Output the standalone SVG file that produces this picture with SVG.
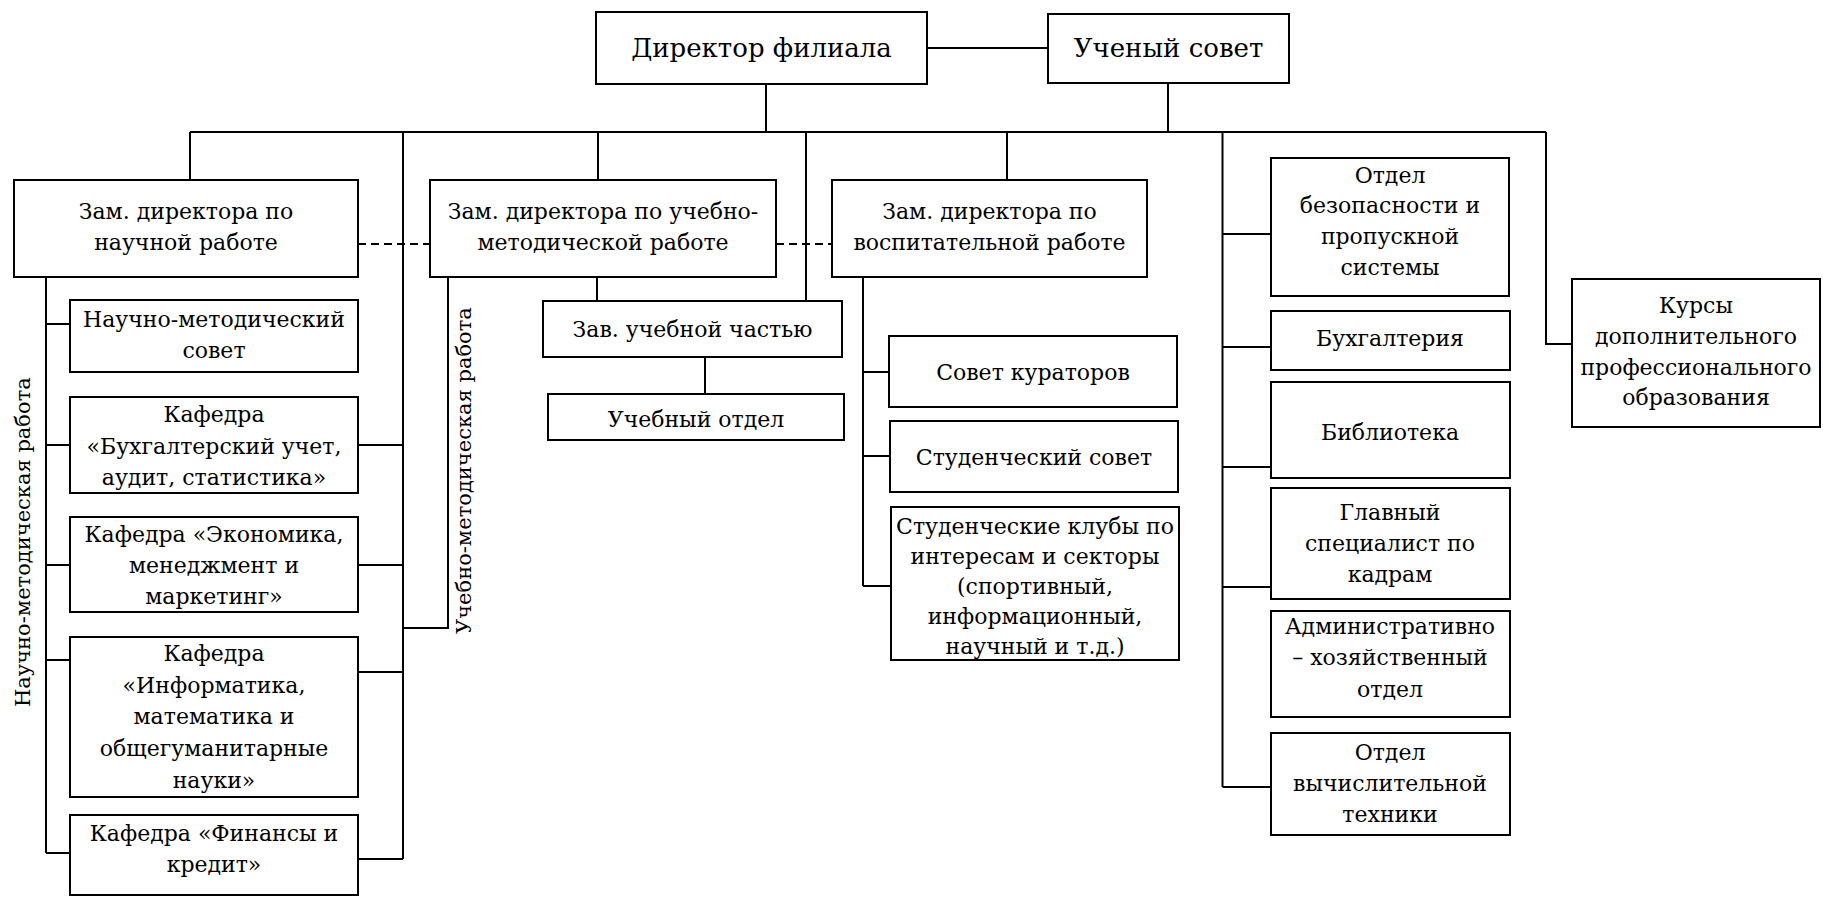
<svg xmlns="http://www.w3.org/2000/svg" width="1823" height="897" viewBox="0 0 1823 897">
<style>
text{font-family:'DejaVu Serif','Noto Serif',serif;fill:#000}
.box{fill:#fff;stroke:#000;stroke-width:2}
.t{font-size:22px;text-anchor:middle}
.tt{font-size:26px;text-anchor:middle}
.rl{font-size:21px}
.c{fill:none;stroke:#000;stroke-width:2}
.d{fill:none;stroke:#000;stroke-width:2;stroke-dasharray:8 5}
</style>
<rect width="1823" height="897" fill="#fff"/>
<g id="connectors">
<path class="c" d="M927,48H1048 M766,84V132 M1168,83V132 M190,132H1546 M190,132V180 M403,132V859 M598,132V180 M806,132V301 M1007,132V180 M1222.5,132V787 M1546,132V344H1572"/>
<path class="d" d="M358,244H430 M776,244H832"/>
<path class="c" d="M46,277V853 M46,324H70 M46,445H70 M46,565H70 M46,660H70 M46,853H70"/>
<path class="c" d="M358,445H403 M358,565H403 M358,672H403 M358,859H403 M403,628H448V277"/>
<path class="c" d="M597,277V301 M705,357V394"/>
<path class="c" d="M863,277V586 M863,372H889 M863,456H890 M863,586H891"/>
<path class="c" d="M1222.5,234H1271 M1222.5,347H1271 M1222.5,467H1271 M1222.5,587H1271 M1222.5,787H1271"/>
</g>
<g id="label-science">
<text class="rl" transform="translate(30,707) rotate(-90)">Научно-методическая работа</text>
</g>
<g id="label-method">
<text class="rl" transform="translate(471,634) rotate(-90)">Учебно-методическая работа</text>
</g>
<g id="director"><rect class="box" x="596" y="12" width="331" height="72"/><text class="tt" x="761.5" y="57">Директор филиала</text></g>
<g id="council"><rect class="box" x="1048" y="14" width="241" height="69"/><text class="tt" x="1168.5" y="57">Ученый совет</text></g>
<g id="dep-science"><rect class="box" x="14" y="180" width="344" height="97"/><text class="t" x="186" y="219">Зам. директора по</text><text class="t" x="186" y="250">научной работе</text></g>
<g id="dep-method"><rect class="box" x="430" y="180" width="346" height="97"/><text class="t" x="603" y="219">Зам. директора по учебно-</text><text class="t" x="603" y="250">методической работе</text></g>
<g id="dep-edu"><rect class="box" x="832" y="180" width="315" height="97"/><text class="t" x="989.5" y="219">Зам. директора по</text><text class="t" x="989.5" y="250">воспитательной работе</text></g>
<g id="nms"><rect class="box" x="70" y="300" width="288" height="72"/><text class="t" x="214" y="327">Научно-методический</text><text class="t" x="214" y="358">совет</text></g>
<g id="kaf-buh"><rect class="box" x="70" y="397" width="288" height="96"/><text class="t" x="214" y="422">Кафедра</text><text class="t" x="214" y="454">«Бухгалтерский учет,</text><text class="t" x="214" y="485">аудит, статистика»</text></g>
<g id="kaf-econ"><rect class="box" x="70" y="517" width="288" height="95"/><text class="t" x="214" y="542">Кафедра «Экономика,</text><text class="t" x="214" y="573">менеджмент и</text><text class="t" x="214" y="604">маркетинг»</text></g>
<g id="kaf-inf"><rect class="box" x="70" y="637" width="288" height="160"/><text class="t" x="214" y="661">Кафедра</text><text class="t" x="214" y="693">«Информатика,</text><text class="t" x="214" y="724">математика и</text><text class="t" x="214" y="756">общегуманитарные</text><text class="t" x="214" y="788">науки»</text></g>
<g id="kaf-fin"><rect class="box" x="70" y="815" width="288" height="80"/><text class="t" x="214" y="841">Кафедра «Финансы и</text><text class="t" x="214" y="872">кредит»</text></g>
<g id="zav"><rect class="box" x="543" y="301" width="299" height="56"/><text class="t" x="692.5" y="337">Зав. учебной частью</text></g>
<g id="uch-otd"><rect class="box" x="548" y="394" width="296" height="46"/><text class="t" x="696" y="427">Учебный отдел</text></g>
<g id="kurator"><rect class="box" x="889" y="336" width="288" height="71"/><text class="t" x="1033" y="380">Совет кураторов</text></g>
<g id="stud-sovet"><rect class="box" x="890" y="421" width="288" height="71"/><text class="t" x="1034" y="465">Студенческий совет</text></g>
<g id="clubs"><rect class="box" x="891" y="507" width="288" height="153"/><text class="t" x="1035" y="534">Студенческие клубы по</text><text class="t" x="1035" y="564">интересам и секторы</text><text class="t" x="1035" y="594">(спортивный,</text><text class="t" x="1035" y="624">информационный,</text><text class="t" x="1035" y="654">научный и т.д.)</text></g>
<g id="security"><rect class="box" x="1271" y="158" width="238" height="138"/><text class="t" x="1390" y="183">Отдел</text><text class="t" x="1390" y="213">безопасности и</text><text class="t" x="1390" y="244">пропускной</text><text class="t" x="1390" y="275">системы</text></g>
<g id="buh"><rect class="box" x="1271" y="311" width="239" height="59"/><text class="t" x="1390" y="346">Бухгалтерия</text></g>
<g id="lib"><rect class="box" x="1271" y="382" width="239" height="96"/><text class="t" x="1390" y="440">Библиотека</text></g>
<g id="hr"><rect class="box" x="1271" y="488" width="239" height="111"/><text class="t" x="1390" y="520">Главный</text><text class="t" x="1390" y="551">специалист по</text><text class="t" x="1390" y="582">кадрам</text></g>
<g id="admin"><rect class="box" x="1271" y="611" width="239" height="106"/><text class="t" x="1390" y="634">Административно</text><text class="t" x="1390" y="665">– хозяйственный</text><text class="t" x="1390" y="697">отдел</text></g>
<g id="it"><rect class="box" x="1271" y="733" width="239" height="102"/><text class="t" x="1390" y="760">Отдел</text><text class="t" x="1390" y="791">вычислительной</text><text class="t" x="1390" y="822">техники</text></g>
<g id="kursy"><rect class="box" x="1572" y="279" width="248" height="148"/><text class="t" x="1696" y="313">Курсы</text><text class="t" x="1696" y="344">дополнительного</text><text class="t" x="1696" y="375">профессионального</text><text class="t" x="1696" y="405">образования</text></g>
</svg>
